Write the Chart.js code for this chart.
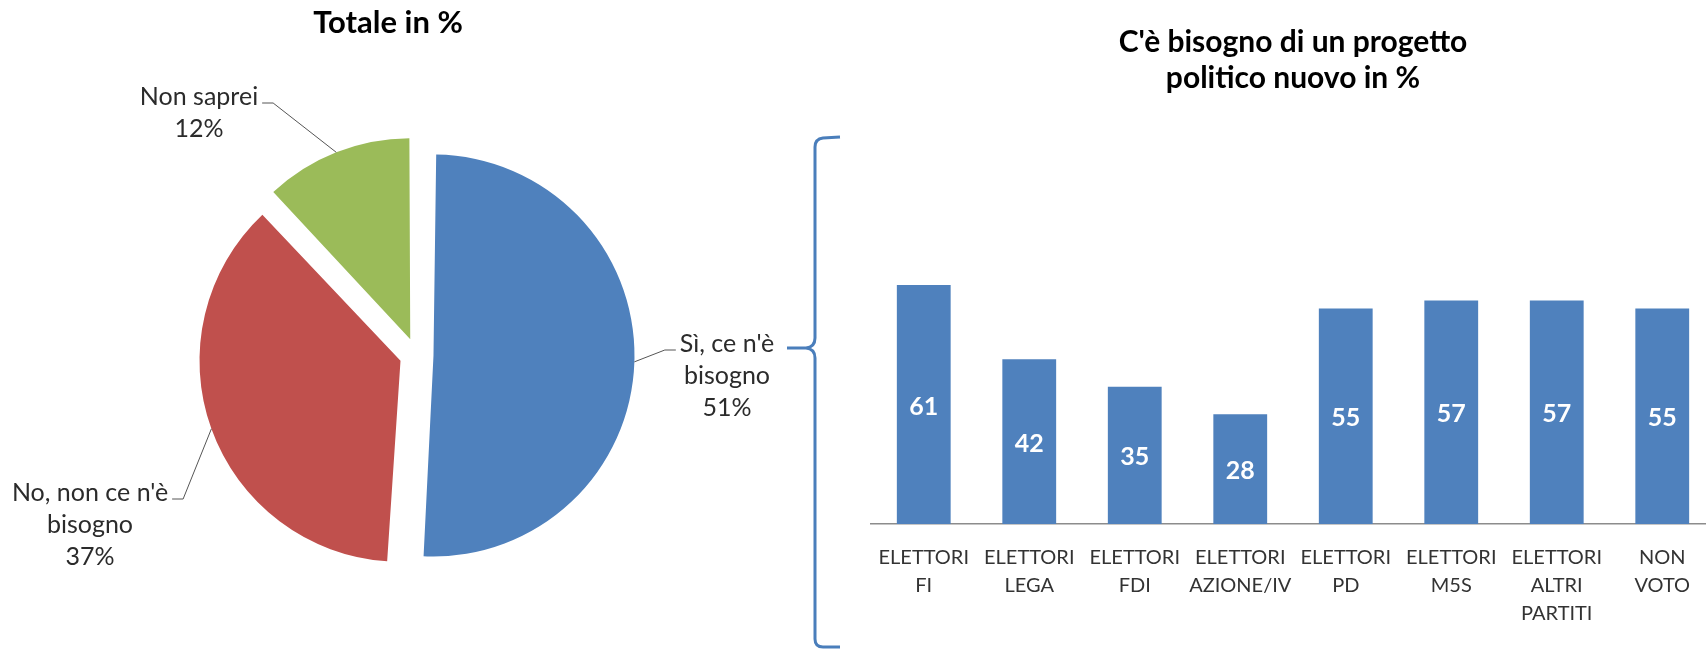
<!DOCTYPE html>
<html>
<head>
<meta charset="utf-8">
<script src="https://cdn.jsdelivr.net/npm/chart.js@4"></script>
<style>
  html, body { margin: 0; padding: 0; background: #fff; width: 1706px; height: 651px; overflow: hidden; }
  #pieCanvas { position: absolute; left: 0; top: 0; }
  #barCanvas { position: absolute; left: 760px; top: 0; }
</style>
</head>
<body>
<canvas id="pieCanvas" width="800" height="651"></canvas>
<canvas id="barCanvas" width="960" height="651"></canvas>
<script>
// --- data ---
const pieTitle = "Totale in %";
const pieLabels = [["Sì, ce n'è", "bisogno"], ["No, non ce n'è", "bisogno"], ["Non saprei"]];
const pieValues = [51, 37, 12];

const barTitle = ["C'è bisogno di un progetto", "politico nuovo in %"];
const barCategories = [
  ["ELETTORI", "FI"], ["ELETTORI", "LEGA"], ["ELETTORI", "FDI"], ["ELETTORI", "AZIONE/IV"],
  ["ELETTORI", "PD"], ["ELETTORI", "M5S"], ["ELETTORI", "ALTRI", "PARTITI"], ["NON", "VOTO"]
];
const barValues = [61, 42, 35, 28, 55, 57, 57, 55];

// --- styling ---
const FONT = "Lato, 'Open Sans', sans-serif";
const BLUE = "#4F81BD";
const sliceColors = [BLUE, "#C0504D", "#9BBB59"];
// where each callout's first line sits, and which side the leader leaves from
const callouts = [
  { x: 727, y: 344, side: "left" },
  { x: 90, y: 493, side: "right" },
  { x: 199, y: 97, side: "right" }
];

// Chart.js grows an offset slice's radius a bit; undo that so exploded
// slices keep the same radius, like an Excel exploded pie
const evenExplode = {
  id: "evenExplode",
  afterDatasetUpdate(chart) {
    chart.getDatasetMeta(0).data.forEach((arc) => {
      const t = (arc.options.offset || 0) / 4;
      const fix = 1 - Math.sin(Math.min(Math.PI, arc.circumference));
      arc.outerRadius -= t * fix;
    });
  }
};

const pieText = {
  id: "pieText",
  afterDatasetsDraw(chart) {
    const ctx = chart.ctx;
    const meta = chart.getDatasetMeta(0);
    ctx.save();
    ctx.textAlign = "center";
    ctx.textBaseline = "middle";
    ctx.fillStyle = "#000";
    ctx.font = `bold 31px ${FONT}`;
    ctx.fillText(pieTitle, 388, 23);

    ctx.font = `25px ${FONT}`;
    ctx.fillStyle = "#2b2b2b";
    ctx.strokeStyle = "#555";
    ctx.lineWidth = 1;
    meta.data.forEach((arc, i) => {
      const c = callouts[i];
      const lines = [...pieLabels[i], pieValues[i] + "%"];
      lines.forEach((t, k) => ctx.fillText(t, c.x, c.y + k * 32));
      const w = ctx.measureText(lines[0]).width;
      const dir = c.side === "right" ? 1 : -1;
      const ax = c.x + dir * (w / 2 + 4);
      const bx = ax + dir * 11;
      const ly = c.y + 6;
      const mid = (arc.startAngle + arc.endAngle) / 2;
      const t = arc.options.offset / 4;
      const fix = 1 - Math.sin(Math.min(Math.PI, arc.circumference));
      const shift = t + arc.outerRadius + t * fix;
      const px = arc.x + Math.cos(mid) * shift;
      const py = arc.y + Math.sin(mid) * shift;
      ctx.beginPath();
      ctx.moveTo(ax, ly);
      ctx.lineTo(bx, ly);
      ctx.lineTo(px, py);
      ctx.stroke();
    });
    ctx.restore();
  }
};

const barExtras = {
  id: "barExtras",
  afterDatasetsDraw(chart) {
    const ctx = chart.ctx;
    const meta = chart.getDatasetMeta(0);
    ctx.save();
    ctx.fillStyle = "#fff";
    ctx.font = `bold 25px ${FONT}`;
    ctx.textAlign = "center";
    ctx.textBaseline = "middle";
    meta.data.forEach((bar, i) => {
      ctx.fillText(String(barValues[i]), bar.x, (bar.y + bar.base) / 2 + 2);
    });

    // curly brace joining the pie slice to the bar chart
    ctx.strokeStyle = "#4A7EBB";
    ctx.lineWidth = 3;
    ctx.beginPath();
    ctx.moveTo(80, 137);
    ctx.lineTo(63, 138);
    ctx.quadraticCurveTo(55, 139, 55, 147);
    ctx.lineTo(55, 338);
    ctx.quadraticCurveTo(55, 347, 46, 348);
    ctx.lineTo(27, 348);
    ctx.moveTo(46, 348);
    ctx.quadraticCurveTo(55, 349, 55, 358);
    ctx.lineTo(55, 639);
    ctx.quadraticCurveTo(55, 647, 63, 647);
    ctx.lineTo(80, 647);
    ctx.stroke();
    ctx.restore();
  }
};

new Chart(document.getElementById("pieCanvas"), {
  type: "pie",
  data: {
    labels: pieLabels,
    datasets: [{
      data: pieValues,
      backgroundColor: sliceColors,
      borderWidth: 0,
      radius: 201,
      offset: 68
    }]
  },
  options: {
    responsive: false,
    animation: false,
    devicePixelRatio: 1,
    layout: { padding: { left: 73, top: 59, right: 40, bottom: 0 } },
    plugins: { legend: { display: false }, tooltip: { enabled: false } }
  },
  plugins: [evenExplode, pieText]
});

new Chart(document.getElementById("barCanvas"), {
  type: "bar",
  data: {
    labels: barCategories,
    datasets: [{
      data: barValues,
      backgroundColor: BLUE,
      borderWidth: 0,
      categoryPercentage: 1,
      barPercentage: 0.51
    }]
  },
  options: {
    responsive: false,
    animation: false,
    devicePixelRatio: 1,
    layout: { padding: { left: 111, right: 5, top: 0, bottom: 0 } },
    plugins: {
      legend: { display: false },
      tooltip: { enabled: false },
      title: {
        display: true,
        text: barTitle,
        color: "#000",
        font: { family: FONT, size: 30, weight: "bold", lineHeight: 35.5 / 30 },
        padding: { top: 25, bottom: 36 }
      }
    },
    scales: {
      x: {
        grid: { display: false, drawTicks: false },
        border: { display: true, color: "#8c8c8c", width: 1.5 },
        ticks: {
          color: "#333",
          font: { family: FONT, size: 20, lineHeight: 28 / 20 },
          padding: 20,
          maxRotation: 0,
          autoSkip: false
        },
        afterFit(scale) { scale.height = 127; }
      },
      y: { display: false, min: 0, max: 100 }
    }
  },
  plugins: [barExtras]
});
</script>
</body>
</html>
